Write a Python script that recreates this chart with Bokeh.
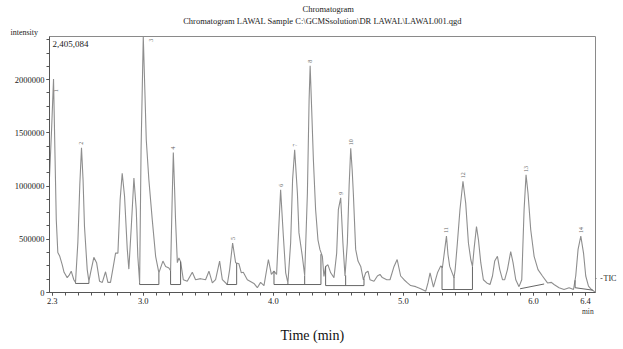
from bokeh.plotting import figure
from bokeh.models import (Range1d, FixedTicker, NumeralTickFormatter, Label, Title,
                          LinearAxis, CustomJSTickFormatter)
from bokeh.core.properties import value
from bokeh.embed import file_html
from bokeh.resources import INLINE
import math

# ---------------- data ----------------
time_min = [
    2.279, 2.295, 2.310, 2.322, 2.331, 2.343, 2.358, 2.377, 2.391, 2.415, 2.429, 2.446, 2.466, 2.479,
    2.497, 2.512, 2.525, 2.537, 2.548, 2.569, 2.582, 2.595, 2.620, 2.641, 2.664, 2.685, 2.710, 2.728, 2.748,
    2.772, 2.787, 2.805, 2.822, 2.838, 2.856, 2.877, 2.889, 2.908, 2.928, 2.946, 2.958, 2.972,
    2.983, 3.000, 3.012, 3.023, 3.043, 3.069, 3.095, 3.120, 3.151, 3.172, 3.197, 3.210,
    3.222, 3.231, 3.241, 3.248, 3.262, 3.274, 3.287, 3.308, 3.338, 3.377, 3.402, 3.441, 3.479, 3.505,
    3.531, 3.556, 3.587, 3.608, 3.646,
    3.664, 3.687, 3.710, 3.735, 3.754, 3.769, 3.800, 3.851, 3.877, 3.902, 3.928, 3.962, 3.985, 4.005, 4.025,
    4.041, 4.056, 4.077, 4.095, 4.112, 4.133, 4.148, 4.164, 4.185, 4.197, 4.223, 4.241,
    4.262, 4.275, 4.283, 4.295, 4.308, 4.325, 4.343, 4.358, 4.377, 4.389, 4.402, 4.420, 4.441, 4.466,
    4.487, 4.500, 4.518, 4.535, 4.551, 4.569, 4.583, 4.595, 4.606, 4.615, 4.633, 4.651, 4.672, 4.692,
    4.710, 4.728, 4.743, 4.774, 4.800, 4.820, 4.838, 4.872, 4.897, 4.928, 4.952, 4.979, 5.005, 5.031,
    5.056, 5.095, 5.133, 5.172,
    5.189, 5.205, 5.231, 5.262, 5.287, 5.300, 5.318, 5.331, 5.343, 5.356, 5.389, 5.398, 5.415, 5.435,
    5.458, 5.479, 5.500, 5.518, 5.531,
    5.543, 5.562, 5.577, 5.595, 5.615, 5.641, 5.666, 5.685, 5.702, 5.723, 5.741, 5.762, 5.779, 5.800,
    5.825, 5.843, 5.864, 5.889,
    5.910, 5.928, 5.943, 5.958, 5.979, 6.005, 6.035, 6.069, 6.108, 6.138, 6.158, 6.197, 6.235, 6.274, 6.308,
    6.325, 6.343, 6.364, 6.385, 6.402, 6.423, 6.446, 6.466, 6.477,
]
intensity = [
    1080000, 1530000, 2005000, 1245000, 685000, 375000, 340000, 260000, 190000, 140000, 160000, 200000, 120000, 95000,
    470000, 1012000, 1360000, 1060000, 620000, 215000, 105000, 187000, 330000, 280000, 105000, 95000, 195000, 95000, 95000,
    262000, 370000, 370000, 870000, 1120000, 905000, 405000, 220000, 620000, 1075000, 780000, 340000, 95000,
    1340000, 2405084, 1905000, 1435000, 1060000, 685000, 340000, 185000, 295000, 245000, 230000, 205000,
    870000, 1315000, 965000, 685000, 280000, 325000, 290000, 120000, 105000, 190000, 120000, 130000, 120000, 200000,
    90000, 120000, 295000, 120000, 75000,
    215000, 465000, 280000, 270000, 185000, 190000, 120000, 85000, 45000, 95000, 65000, 310000, 170000, 200000, 170000,
    590000, 965000, 530000, 185000, 90000, 465000, 1060000, 1340000, 935000, 560000, 340000, 160000,
    937000, 1810000, 2130000, 1715000, 1245000, 780000, 495000, 405000, 340000, 150000, 245000, 260000, 185000, 140000,
    370000, 780000, 890000, 465000, 155000, 465000, 1012000, 1355000, 1155000, 935000, 405000, 295000, 245000, 120000,
    185000, 200000, 120000, 105000, 155000, 170000, 140000, 120000, 120000, 245000, 310000, 155000, 120000, 90000,
    65000, 55000, 35000, 12000,
    90000, 185000, 50000, 185000, 250000, 235000, 405000, 530000, 355000, 245000, 140000, 215000, 465000, 780000,
    1045000, 840000, 465000, 310000, 245000,
    405000, 620000, 495000, 280000, 120000, 90000, 75000, 155000, 295000, 340000, 215000, 120000, 120000, 215000,
    385000, 280000, 120000, 55000,
    120000, 780000, 1105000, 935000, 590000, 340000, 215000, 155000, 90000, 95000, 75000, 45000, 28000, 45000, 28000,
    155000, 405000, 530000, 370000, 155000, 60000, 28000, 12000, 10000,
]

# integration baselines
base_t0 = [2.479, 2.972, 3.210, 3.643, 4.005, 4.402, 5.297, 5.897, 6.320]
base_t1 = [2.582, 3.120, 3.287, 3.718, 4.366, 4.697, 5.531, 6.082, 6.456]
base_i0 = [85000, 75000, 75000, 75000, 75000, 65000, 28000, 35000, 45000]
base_i1 = [85000, 75000, 75000, 75000, 75000, 65000, 28000, 80000, 22000]

# peak boundary markers
split_t = [2.479, 2.582, 2.972, 3.120, 3.210, 3.287, 3.643, 3.718, 4.005, 4.112, 4.241, 4.366,
           4.402, 4.556, 4.697, 5.297, 5.389, 5.531, 6.320]
split_bottom = [85000, 85000, 75000, 75000, 75000, 75000, 75000, 75000, 75000, 75000, 75000, 75000,
                65000, 65000, 65000, 28000, 28000, 28000, 45000]
split_top = [95000, 105000, 95000, 185000, 205000, 290000, 80000, 275000, 200000, 90000, 160000, 360000,
             245000, 160000, 130000, 245000, 145000, 245000, 115000]

# numbered peaks
peak_no = ["2", "4", "5", "6", "7", "8", "9", "10", "11", "12", "13", "14"]
peak_t = [2.525, 3.231, 3.687, 4.056, 4.164, 4.283, 4.518, 4.595, 5.331, 5.458, 5.943, 6.364]
peak_i = [1360000, 1315000, 465000, 965000, 1340000, 2130000, 890000, 1355000, 530000, 1045000, 1105000, 530000]
edge_peak_no = ["1", "3"]
edge_peak_t = [2.329, 3.056]
edge_peak_i = [1895000, 2370000]

x_major = [2.3, 3.0, 4.0, 5.0, 6.0, 6.4]
x_minor = [round(2.3 + 0.1 * k, 1) for k in range(0, 42)]
y_major = [0, 500000, 1000000, 1500000, 2000000]
y_minor = [125000 * k for k in range(0, 20)]

title_1 = "Chromatogram"
title_2 = "Chromatogram LAWAL Sample C:\\GCMSsolution\\DR LAWAL\\LAWAL001.qgd"
y_title = "intensity"
x_title = "Time (min)"
x_unit = "min"
trace_name = "TIC"
max_label = "2,405,084"
unit_tick = [6.418]
trace_tick = [136000]

# ---------------- figure ----------------
SERIF = "Liberation Serif"
p = figure(width=623, height=349, output_backend="svg", toolbar_location=None, title=None,
           x_range=Range1d(2.279, 6.477), y_range=Range1d(0, 2405084),
           min_border_left=49, min_border_right=28, min_border_top=36, min_border_bottom=56)
p.xgrid.visible = False
p.ygrid.visible = False
p.outline_line_color = "#8a8a8a"
p.outline_line_width = 1
p.background_fill_color = "white"
p.border_fill_color = "white"

xax = p.xaxis[0]
yax = p.yaxis[0]
for ax in (xax, yax):
    ax.axis_line_color = "#555555"
    ax.major_tick_line_color = "#555555"
    ax.minor_tick_line_color = "#555555"
    ax.major_tick_in = 0
    ax.major_tick_out = 3
    ax.minor_tick_in = 0
    ax.minor_tick_out = 3
    ax.major_label_text_font = SERIF
    ax.major_label_text_font_size = "8.5px"
    ax.major_label_text_color = "#222222"
    ax.major_label_standoff = 2

xax.ticker = FixedTicker(ticks=x_major, minor_ticks=x_minor)
xax.formatter = NumeralTickFormatter(format="0.0")
yax.ticker = FixedTicker(ticks=y_major, minor_ticks=y_minor)
yax.formatter = NumeralTickFormatter(format="0")

# "min" unit under the last tick
unit_ax = LinearAxis(ticker=FixedTicker(ticks=unit_tick, minor_ticks=[]),
                     formatter=CustomJSTickFormatter(code="return '%s';" % x_unit),
                     axis_line_color=None, major_tick_line_color=None, minor_tick_line_color=None,
                     major_tick_out=0, major_tick_in=0, major_label_standoff=0,
                     major_label_text_font=SERIF, major_label_text_font_size="7.5px",
                     major_label_text_color="#333333")
p.add_layout(unit_ax, "below")

# trace name on the right
tic_ax = LinearAxis(ticker=FixedTicker(ticks=trace_tick, minor_ticks=[]),
                    formatter=CustomJSTickFormatter(code="return '%s';" % trace_name),
                    axis_line_color=None, minor_tick_line_color=None,
                    major_tick_line_color="#777777", major_tick_line_dash="dotted",
                    major_tick_out=7, major_tick_in=0, major_label_standoff=1,
                    major_label_text_font=SERIF, major_label_text_font_size="8px",
                    major_label_text_color="#222222")
p.add_layout(tic_ax, "right")

# titles
p.add_layout(Title(text=y_title, align="left", offset=-39, standoff=0,
                   text_font=SERIF, text_font_size="8px", text_font_style="normal",
                   text_color="#222222"), "above")
p.add_layout(Title(text=title_2, align="center", standoff=0,
                   text_font=SERIF, text_font_size="8.5px", text_font_style="normal",
                   text_color="#222222"), "above")
p.add_layout(Title(text=title_1, align="left", offset=253, standoff=0,
                   text_font=SERIF, text_font_size="8.5px", text_font_style="normal",
                   text_color="#222222"), "above")
p.add_layout(Title(text=x_title, align="left", offset=231, standoff=14,
                   text_font=SERIF, text_font_size="14px", text_font_style="normal",
                   text_color="#111111"), "below")

# trace
p.line(time_min, intensity, line_color="#8e8e8e", line_width=1.1)

# baselines and boundaries
p.segment(x0=base_t0, y0=base_i0, x1=base_t1, y1=base_i1, line_color="#666666", line_width=1)
p.segment(x0=split_t, y0=split_bottom, x1=split_t, y1=split_top, line_color="#666666", line_width=1)

# peak numbers
p.text(x=peak_t, y=peak_i, text=peak_no, angle=math.pi / 2, y_offset=-3,
       text_align="left", text_baseline="middle", text_font=value(SERIF),
       text_font_size="6px", text_color="#666666")
p.text(x=edge_peak_t, y=edge_peak_i, text=edge_peak_no, angle=math.pi / 2,
       text_align="center", text_baseline="middle", text_font=value(SERIF),
       text_font_size="6px", text_color="#666666")

p.add_layout(Label(x=2.302, y=2339000, text=max_label, text_font=SERIF, text_font_size="9px",
                   text_align="left", text_baseline="middle", text_color="#222222"))

open("out.html", "w").write(file_html(p, INLINE))
